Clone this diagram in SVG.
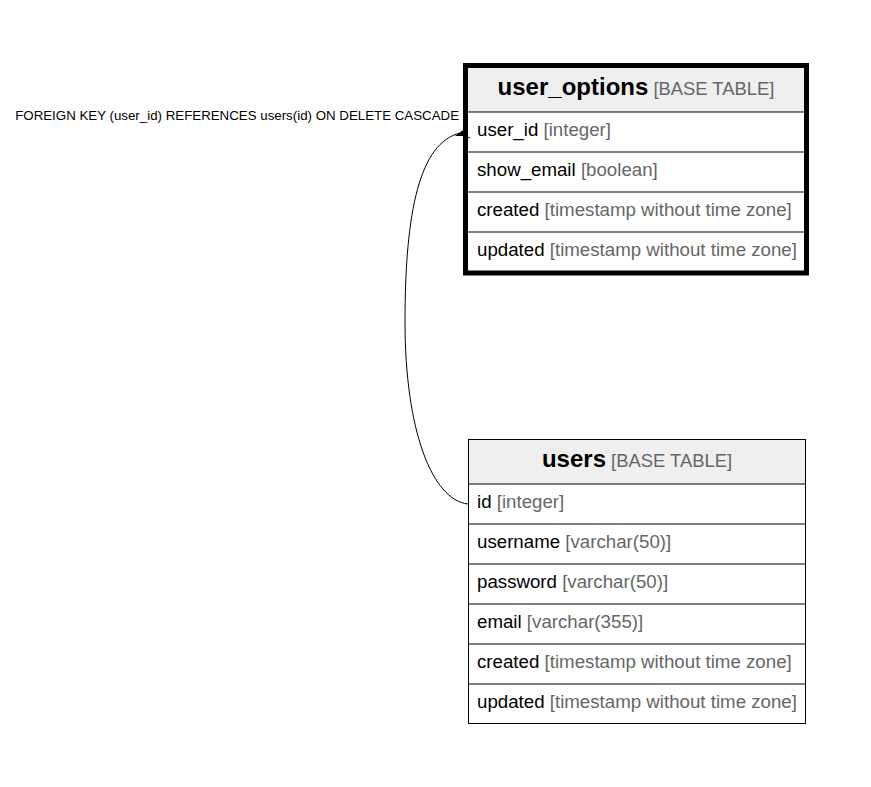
<svg xmlns="http://www.w3.org/2000/svg" width="871" height="787" viewBox="0 0 871 787">
<style>
text{font-family:"Liberation Sans",Arial,sans-serif;fill:#000}
.t{font-size:24px;font-weight:bold}
.h{font-size:18.4px;font-weight:normal;fill:#666}
.b{fill:#666}
.r{font-size:18.7px}
.lbl{font-size:13.3px}
.hd{fill:#efefef}
.ln{stroke:#000;stroke-width:1}
</style>
<rect width="871" height="787" fill="#fff"/>
<g id="connectors">
<path d="M468,504 C432,500 405,430 405,322 C405,210 420,143 460,133" fill="none" stroke="#000" stroke-width="1"/>
<path d="M455,136 L466,128 L463,136 Z" fill="#000"/>
<path d="M463,135 L470,138" stroke="#000" stroke-width="1"/>
<text class="lbl" x="459" y="120" text-anchor="end">FOREIGN KEY (user_id) REFERENCES users(id) ON DELETE CASCADE</text>
</g>
<g id="user_options">
<rect x="468" y="68" width="336" height="44" class="hd"/>
<rect x="465.5" y="65.5" width="341" height="207.5" fill="none" stroke="#000" stroke-width="5"/>
<line class="ln" x1="468" y1="112" x2="804" y2="112"/>
<line class="ln" x1="468" y1="152" x2="804" y2="152"/>
<line class="ln" x1="468" y1="192" x2="804" y2="192"/>
<line class="ln" x1="468" y1="232" x2="804" y2="232"/>
<text x="636" y="95" text-anchor="middle"><tspan class="t">user_options</tspan><tspan class="h"> [BASE TABLE]</tspan></text>
<text class="r" x="477" y="136">user_id<tspan class="b"> [integer]</tspan></text>
<text class="r" x="477" y="176">show_email<tspan class="b"> [boolean]</tspan></text>
<text class="r" x="477" y="216">created<tspan class="b"> [timestamp without time zone]</tspan></text>
<text class="r" x="477" y="256">updated<tspan class="b"> [timestamp without time zone]</tspan></text>
</g>
<g id="users">
<rect x="468.5" y="439.5" width="337" height="44.5" class="hd"/>
<rect x="468.5" y="439.5" width="337" height="284" fill="none" stroke="#000" stroke-width="1"/>
<line class="ln" x1="468" y1="484" x2="806" y2="484"/>
<line class="ln" x1="468" y1="524" x2="806" y2="524"/>
<line class="ln" x1="468" y1="564" x2="806" y2="564"/>
<line class="ln" x1="468" y1="604" x2="806" y2="604"/>
<line class="ln" x1="468" y1="644" x2="806" y2="644"/>
<line class="ln" x1="468" y1="684" x2="806" y2="684"/>
<text x="637" y="467" text-anchor="middle"><tspan class="t">users</tspan><tspan class="h"> [BASE TABLE]</tspan></text>
<text class="r" x="477" y="508">id<tspan class="b"> [integer]</tspan></text>
<text class="r" x="477" y="548">username<tspan class="b"> [varchar(50)]</tspan></text>
<text class="r" x="477" y="588">password<tspan class="b"> [varchar(50)]</tspan></text>
<text class="r" x="477" y="628">email<tspan class="b"> [varchar(355)]</tspan></text>
<text class="r" x="477" y="668">created<tspan class="b"> [timestamp without time zone]</tspan></text>
<text class="r" x="477" y="708">updated<tspan class="b"> [timestamp without time zone]</tspan></text>
</g>
</svg>
